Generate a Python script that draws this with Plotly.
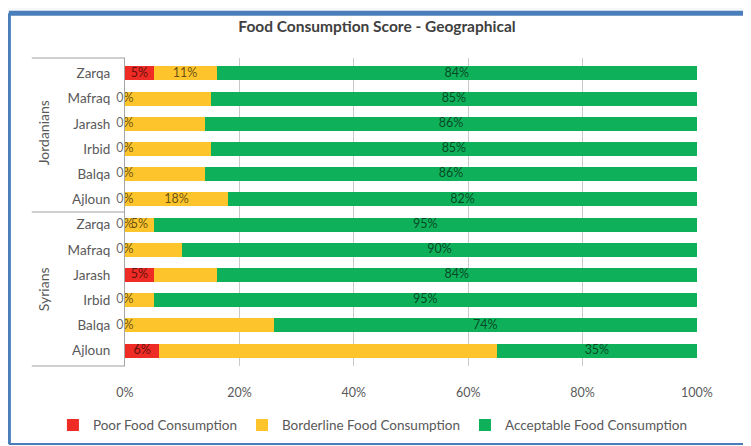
import plotly.graph_objects as go

# rows listed top to bottom
groups = ["Jordanians"] * 6 + ["Syrians"] * 6
regions = ["Zarqa", "Mafraq", "Jarash", "Irbid", "Balqa", "Ajloun"] * 2

poor = [5, 0, 0, 0, 0, 0, 0, 0, 5, 0, 0, 6]
borderline = [11, 15, 14, 15, 14, 18, 5, 10, 11, 5, 26, 59]
acceptable = [84, 85, 86, 85, 86, 82, 95, 90, 84, 95, 74, 35]

# labels as shown on the chart (excel hid a few)
poor_lbl = ["5%", "0%", "0%", "0%", "0%", "0%", "0%", "0%", "5%", "0%", "0%", "6%"]
border_lbl = ["11%", "", "", "", "", "18%", "5%", "", "", "", "", ""]
accept_lbl = ["84%", "85%", "86%", "85%", "86%", "82%", "95%", "90%", "84%", "95%", "74%", "35%"]

series = ["Poor Food Consumption", "Borderline Food Consumption", "Acceptable Food Consumption"]
colors = ["#ee2b24", "#fdc42c", "#0fb05a"]

FONT = "Lato"
GREY = "#595959"

keys = [g + "|" + r for g, r in zip(groups, regions)]

fig = go.Figure()
vals = [poor, borderline, acceptable]
lbls = [poor_lbl, border_lbl, accept_lbl]
for name, v, c in zip(series, vals, colors):
    fig.add_trace(go.Bar(x=[x / 100 for x in v], y=keys, orientation="h",
                         name=name, marker_color=c, marker_line_width=0))

# data labels centred in each segment
start = [0] * len(keys)
for v, lb in zip(vals, lbls):
    fig.add_trace(go.Scatter(x=[(s + x / 2) / 100 for s, x in zip(start, v)], y=keys,
                             mode="text", text=lb, showlegend=False, hoverinfo="skip",
                             cliponaxis=False,
                             textfont=dict(family=FONT, size=12.5, color="rgba(0,0,0,0.62)")))
    start = [s + x for s, x in zip(start, v)]

fig.update_xaxes(range=[0, 1], tickformat=".0%", dtick=0.2, showgrid=True,
                 gridcolor="#c9c9c9", gridwidth=1, zeroline=False, showline=False,
                 ticks="outside", ticklen=15, tickcolor="rgba(0,0,0,0)",
                 tickfont=dict(family=FONT, size=12.5, color=GREY), fixedrange=True)
fig.update_yaxes(type="category", autorange="reversed", tickvals=keys, ticktext=regions,
                 showline=True, linecolor="#a6a6a6", linewidth=1, showgrid=False,
                 ticks="outside", ticklen=11, tickcolor="rgba(0,0,0,0)",
                 tickfont=dict(family=FONT, size=13.5, color=GREY))

shapes = [
    # white card and blue frame
    dict(type="rect", xref="paper", yref="paper", x0=-0.203, x1=1.11, y0=-0.253, y1=1.145,
         fillcolor="white", line_width=0, layer="below"),
    dict(type="line", xref="paper", yref="paper", x0=-0.203, x1=1.11, y0=1.145, y1=1.145,
         line=dict(color="#4a7ebb", width=5)),
    dict(type="line", xref="paper", yref="paper", x0=-0.203, x1=-0.203, y0=-0.253, y1=1.145,
         line=dict(color="#4a7ebb", width=4)),
    dict(type="line", xref="paper", yref="paper", x0=-0.203, x1=1.11, y0=-0.253, y1=-0.253,
         line=dict(color="#4a7ebb", width=2)),
]
# group dividers
for yy in [1, 0.5, 0]:
    shapes.append(dict(type="line", xref="paper", yref="paper", x0=-0.163, x1=0, y0=yy, y1=yy,
                       line=dict(color="#a0a0a0", width=1)))

annotations = [
    dict(text="Jordanians", xref="paper", yref="paper", x=-0.143, y=0.756, textangle=-90,
         xanchor="center", yanchor="middle",
         showarrow=False, font=dict(family=FONT, size=14, color=GREY)),
    dict(text="Syrians", xref="paper", yref="paper", x=-0.143, y=0.25, textangle=-90,
         xanchor="center", yanchor="middle",
         showarrow=False, font=dict(family=FONT, size=14, color=GREY)),
]

# page body has an 8px margin, so the figure is 8px smaller than the window
fig.update_layout(
    width=743, height=438,
    barmode="stack", bargap=0.45,
    paper_bgcolor="#f6f7f9", plot_bgcolor="white",
    margin=dict(l=117, r=54, t=50, b=80, autoexpand=False),
    title=dict(text="<b>Food Consumption Score - Geographical</b>", x=369 / 743, xanchor="center",
               y=1 - 19 / 438, yanchor="middle",
               font=dict(family=FONT, size=15.5, color="#404040")),
    legend=dict(orientation="h", x=-0.126, xanchor="left", y=-0.192, yanchor="middle",
                font=dict(family=FONT, size=13.5, color=GREY), bgcolor="rgba(0,0,0,0)",
                itemwidth=30, traceorder="normal"),
    shapes=shapes, annotations=annotations,
    font=dict(family=FONT),
    showlegend=True,
)

fig.write_html("out.html")
